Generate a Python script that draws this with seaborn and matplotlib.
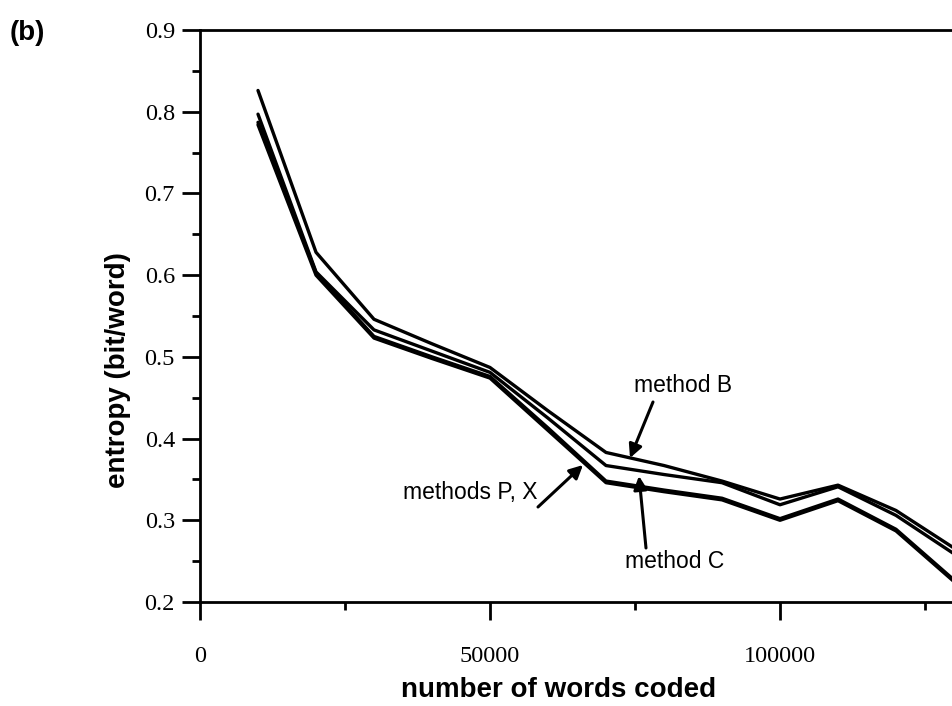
import matplotlib
matplotlib.use("Agg")
import matplotlib.pyplot as plt
import seaborn as sns
import pandas as pd
from matplotlib.ticker import MultipleLocator, FixedLocator

# ---- data ----
words_coded = [10000, 20000, 30000, 40000, 50000, 60000, 70000,
               80000, 90000, 100000, 110000, 120000, 130000]
method_B = [0.826, 0.628, 0.546, 0.516, 0.487, 0.434, 0.383, 0.367, 0.348, 0.326, 0.343, 0.312, 0.266]
method_C = [0.797, 0.604, 0.533, 0.507, 0.481, 0.425, 0.367, 0.356, 0.346, 0.319, 0.341, 0.306, 0.259]
method_P = [0.787, 0.603, 0.525, 0.500, 0.476, 0.413, 0.348, 0.337, 0.327, 0.302, 0.326, 0.289, 0.227]
method_X = [0.784, 0.600, 0.523, 0.498, 0.474, 0.410, 0.346, 0.335, 0.325, 0.300, 0.324, 0.287, 0.225]
x_ticks = [0, 50000, 100000]
x_tick_labels = ["0", "50000", "100000"]
y_ticks = [0.2, 0.3, 0.4, 0.5, 0.6, 0.7, 0.8, 0.9]

df = pd.concat([
    pd.DataFrame({"words": words_coded, "entropy": vals, "method": name})
    for name, vals in [("B", method_B), ("C", method_C), ("P", method_P), ("X", method_X)]
], ignore_index=True)

sns.set_theme(style="ticks")
plt.rcParams["font.family"] = ["Liberation Sans", "DejaVu Sans"]
plt.rcParams["text.color"] = "black"
plt.rcParams["axes.labelcolor"] = "black"
plt.rcParams["xtick.color"] = "black"
plt.rcParams["ytick.color"] = "black"

W, H = 953, 706
fig = plt.figure(figsize=(W / 100, H / 100), dpi=100)
left, right, top, bottom = 200, 954, 30, 602
ax = fig.add_axes([left / W, 1 - bottom / H, (right - left) / W, (bottom - top) / H])

sns.lineplot(data=df, x="words", y="entropy", hue="method",
             palette=["black"] * 4, linewidth=2.4, legend=False, ax=ax, sort=False)

ax.set_xlim(0, 130000)
ax.set_ylim(0.2, 0.9)

for s in ["left", "bottom", "top"]:
    ax.spines[s].set_linewidth(2.0)
    ax.spines[s].set_color("black")
ax.spines["right"].set_visible(False)

ax.xaxis.set_major_locator(FixedLocator(x_ticks))
ax.xaxis.set_minor_locator(MultipleLocator(25000))
ax.set_xticklabels(x_tick_labels)
ax.yaxis.set_major_locator(FixedLocator(y_ticks))
ax.yaxis.set_minor_locator(MultipleLocator(0.05))
ax.set_yticklabels([f"{v:.1f}" for v in y_ticks])

ax.tick_params(which="major", direction="out", length=13, width=2.0)
ax.tick_params(which="minor", direction="out", length=6, width=2.0)
ax.tick_params(axis="x", which="major", pad=19)
ax.tick_params(axis="y", which="major", pad=5)
for lab in ax.get_xticklabels() + ax.get_yticklabels():
    lab.set_fontfamily("Liberation Serif")
    lab.set_fontsize(17.5)
    lab.set_color("black")

ax.set_xlabel("number of words coded", fontsize=20, fontweight="bold")
ax.set_ylabel("entropy (bit/word)", fontsize=20, fontweight="bold")
ax.xaxis.set_label_coords((559 - left) / (right - left), (bottom - 677) / (bottom - top))
ax.yaxis.set_label_coords((131 - left) / (right - left), (bottom - 370) / (bottom - top))

fig.text(10 / W, 1 - 33 / H, "(b)", fontsize=20, fontweight="bold", ha="left", va="center")

def px2data(px, py):
    return ((px - left) / (right - left) * 130000,
            0.2 + (bottom - py) / (bottom - top) * 0.7)

arrow = dict(arrowstyle="-|>", color="black", lw=2.2, mutation_scale=20,
             shrinkA=0, shrinkB=0)

ax.text(*px2data(683, 385), "method B", fontsize=16.5, ha="center", va="center")
ax.annotate("", xy=px2data(630, 458), xytext=px2data(653, 402), arrowprops=arrow)

ax.text(*px2data(675, 562), "method C", fontsize=16.5, ha="center", va="center")
ax.annotate("", xy=px2data(639, 476), xytext=px2data(646, 548), arrowprops=arrow)

ax.text(*px2data(470, 493), "methods P, X", fontsize=16.5, ha="center", va="center")
ax.annotate("", xy=px2data(583, 465), xytext=px2data(538, 507), arrowprops=arrow)

fig.savefig("out.png", dpi=100)
